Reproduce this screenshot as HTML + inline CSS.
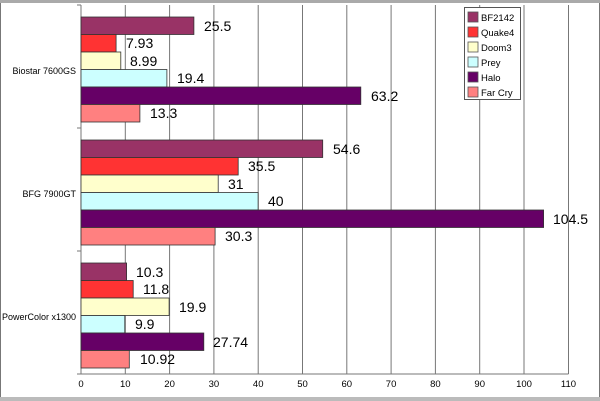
<!DOCTYPE html>
<html><head><meta charset="utf-8"><style>
body{margin:0;background:#fff}
svg{display:block;font-family:"Liberation Sans",Arial,sans-serif}
</style></head><body>
<svg width="600" height="401" viewBox="0 0 600 401" xmlns="http://www.w3.org/2000/svg">
<rect x="0" y="0" width="600" height="401" fill="#fff"/>
<rect x="0.5" y="0.5" width="599" height="399" fill="none" stroke="#777" stroke-width="1"/>
<rect x="0" y="0" width="600" height="3" fill="#aaa"/>
<rect x="0" y="397" width="600" height="4" fill="#bbb"/>
<g stroke="#777" stroke-width="1">
<line x1="125.3" y1="5" x2="125.3" y2="374"/>
<line x1="169.6" y1="5" x2="169.6" y2="374"/>
<line x1="213.9" y1="5" x2="213.9" y2="374"/>
<line x1="258.2" y1="5" x2="258.2" y2="374"/>
<line x1="302.5" y1="5" x2="302.5" y2="374"/>
<line x1="346.8" y1="5" x2="346.8" y2="374"/>
<line x1="391.1" y1="5" x2="391.1" y2="374"/>
<line x1="435.4" y1="5" x2="435.4" y2="374"/>
<line x1="479.7" y1="5" x2="479.7" y2="374"/>
<line x1="524" y1="5" x2="524" y2="374"/>
<line x1="568.5" y1="5" x2="568.5" y2="374"/>
<line x1="81" y1="5" x2="81" y2="374"/>
<line x1="81" y1="374" x2="568.5" y2="374"/>
<line x1="77" y1="5" x2="81" y2="5"/>
<line x1="77" y1="128" x2="81" y2="128"/>
<line x1="77" y1="251" x2="81" y2="251"/>
<line x1="77" y1="374" x2="81" y2="374"/>
</g>
<g stroke="#333" stroke-width="0.8">
<!-- Biostar -->
<rect x="81" y="17" width="112.9" height="17.5" fill="#993366"/>
<rect x="81" y="34.5" width="35.1" height="17.5" fill="#ff3333"/>
<rect x="81" y="52" width="39.8" height="17.5" fill="#ffffcc"/>
<rect x="81" y="69.5" width="85.9" height="17.5" fill="#ccffff"/>
<rect x="81" y="87" width="279.8" height="17.5" fill="#660066"/>
<rect x="81" y="104.5" width="58.9" height="17.5" fill="#ff8080"/>
<!-- BFG -->
<rect x="81" y="140" width="241.7" height="17.5" fill="#993366"/>
<rect x="81" y="157.5" width="157.2" height="17.5" fill="#ff3333"/>
<rect x="81" y="175" width="137.2" height="17.5" fill="#ffffcc"/>
<rect x="81" y="192.5" width="177.1" height="17.5" fill="#ccffff"/>
<rect x="81" y="210" width="462.6" height="17.5" fill="#660066"/>
<rect x="81" y="227.5" width="134.1" height="17.5" fill="#ff8080"/>
<!-- PowerColor -->
<rect x="81" y="263" width="45.6" height="17.5" fill="#993366"/>
<rect x="81" y="280.5" width="52.2" height="17.5" fill="#ff3333"/>
<rect x="81" y="298" width="88.1" height="17.5" fill="#ffffcc"/>
<rect x="81" y="315.5" width="43.8" height="17.5" fill="#ccffff"/>
<rect x="81" y="333" width="122.8" height="17.5" fill="#660066"/>
<rect x="81" y="350.5" width="48.3" height="17.5" fill="#ff8080"/>
</g>
<g font-size="14" fill="#000">
<text x="204" y="31">25.5</text>
<text x="126" y="48">7.93</text>
<text x="130" y="66">8.99</text>
<text x="177" y="83">19.4</text>
<text x="371" y="101">63.2</text>
<text x="150" y="118">13.3</text>
<text x="333" y="154">54.6</text>
<text x="248" y="171">35.5</text>
<text x="228" y="189">31</text>
<text x="268" y="206">40</text>
<text x="553" y="224">104.5</text>
<text x="225" y="241">30.3</text>
<text x="136" y="277">10.3</text>
<text x="143" y="294">11.8</text>
<text x="179" y="312">19.9</text>
<text x="135" y="329">9.9</text>
<text x="213" y="347">27.74</text>
<text x="140" y="364">10.92</text>
</g>
<g font-size="9" fill="#000" text-anchor="end">
<text x="76" y="74">Biostar 7600GS</text>
<text x="76" y="197">BFG 7900GT</text>
<text x="76" y="320">PowerColor x1300</text>
</g>
<g font-size="9.5" fill="#000" text-anchor="middle">
<text x="81" y="387">0</text><text x="125.3" y="387">10</text><text x="169.6" y="387">20</text>
<text x="213.9" y="387">30</text><text x="258.2" y="387">40</text><text x="302.5" y="387">50</text>
<text x="346.8" y="387">60</text><text x="391.1" y="387">70</text><text x="435.4" y="387">80</text>
<text x="479.7" y="387">90</text><text x="524" y="387">100</text><text x="568.5" y="387">110</text>
</g>
<rect x="464.5" y="7.5" width="56" height="92" fill="#fff" stroke="#555" stroke-width="1"/>
<g stroke="#555" stroke-width="0.8">
<rect x="468" y="12" width="10" height="10" fill="#993366"/>
<rect x="468" y="27" width="10" height="10" fill="#ff3333"/>
<rect x="468" y="42" width="10" height="10" fill="#ffffcc"/>
<rect x="468" y="57" width="10" height="10" fill="#ccffff"/>
<rect x="468" y="72" width="10" height="10" fill="#660066"/>
<rect x="468" y="87" width="10" height="10" fill="#ff8080"/>
</g>
<g font-size="9.5" fill="#000">
<text x="481" y="21">BF2142</text>
<text x="481" y="36">Quake4</text>
<text x="481" y="51">Doom3</text>
<text x="481" y="66">Prey</text>
<text x="481" y="81">Halo</text>
<text x="481" y="96">Far Cry</text>
</g>
</svg>
</body></html>
